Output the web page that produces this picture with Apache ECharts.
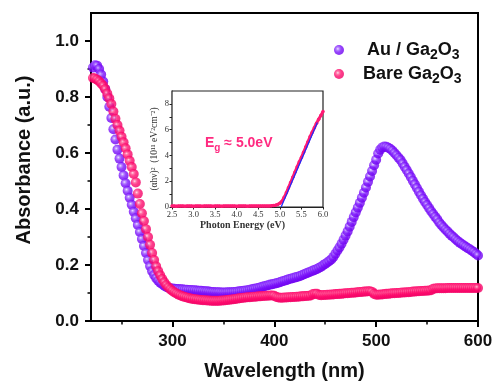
<!DOCTYPE html>
<html><head><meta charset="utf-8">
<script src="https://cdn.jsdelivr.net/npm/echarts@6/dist/echarts.min.js"></script>
<style>html,body{margin:0;padding:0;background:#fff}#c{width:497px;height:386px}</style>
</head><body><div id="c"></div>
<script>
const wavelengths = [
222,224,226,228,230,232,234,236,238,240,
242,244,246,248,250,252,254,256,258,260,
262,264,266,268,270,272,274,276,278,280,
282,284,286,288,290,292,294,296,298,300,
302,304,306,308,310,312,314,316,318,320,
322,324,326,328,330,332,334,336,338,340,
342,344,346,348,350,352,354,356,358,360,
362,364,366,368,370,372,374,376,378,380,
382,384,386,388,390,392,394,396,398,400,
402,404,406,408,410,412,414,416,418,420,
422,424,426,428,430,432,434,436,438,440,
442,444,446,448,450,452,454,456,458,460,
462,464,466,468,470,472,474,476,478,480,
482,484,486,488,490,492,494,496,498,500,
502,504,506,508,510,512,514,516,518,520,
522,524,526,528,530,532,534,536,538,540,
542,544,546,548,550,552,554,556,558,560,
562,564,566,568,570,572,574,576,578,580,
582,584,586,588,590,592,594,596,598,600];
const auGa2O3 = [
.905,.913,.912,.900,.880,.855,.828,.800,.765,.725,
.685,.648,.612,.580,.550,.520,.492,.465,.440,.415,
.390,.367,.343,.318,.293,.268,.243,.218,.196,.178,
.164,.153,.144,.137,.131,.126,.122,.119,.117,.116,
.115,.114,.114,.113,.113,.112,.112,.111,.111,.110,
.110,.109,.108,.108,.107,.106,.106,.105,.104,.104,
.103,.103,.103,.102,.102,.102,.103,.103,.103,.104,
.104,.105,.106,.107,.108,.109,.110,.112,.113,.115,
.116,.118,.120,.122,.124,.126,.128,.130,.131,.133,
.135,.137,.139,.142,.144,.146,.149,.151,.153,.155,
.157,.159,.162,.165,.168,.171,.174,.177,.180,.183,
.186,.190,.194,.199,.204,.209,.214,.220,.229,.240,
.252,.263,.276,.290,.305,.320,.337,.354,.371,.388,
.405,.422,.440,.458,.477,.497,.516,.536,.556,.576,
.598,.612,.620,.623,.622,.619,.614,.608,.600,.592,
.583,.575,.563,.551,.539,.527,.514,.501,.488,.475,
.462,.449,.437,.425,.414,.403,.392,.382,.372,.363,
.352,.343,.335,.327,.320,.312,.305,.299,.292,.286,
.280,.275,.270,.265,.260,.256,.251,.246,.240,.234];
const bareGa2O3 = [
.868,.866,.862,.856,.848,.840,.828,.812,.795,.775,
.748,.722,.700,.680,.658,.638,.617,.595,.572,.550,
.525,.495,.455,.418,.385,.357,.328,.300,.272,.243,
.218,.195,.178,.163,.150,.138,.128,.120,.113,.107,
.102,.098,.094,.091,.088,.086,.084,.082,.080,.079,
.078,.077,.076,.075,.074,.074,.073,.073,.072,.072,
.072,.072,.072,.073,.073,.074,.075,.076,.077,.078,
.079,.080,.081,.082,.083,.084,.085,.085,.086,.087,
.087,.088,.088,.089,.089,.090,.090,.091,.091,.090,
.086,.084,.083,.083,.084,.084,.085,.085,.086,.086,
.087,.087,.088,.088,.089,.089,.090,.091,.096,.097,
.097,.093,.092,.093,.093,.094,.094,.095,.095,.096,
.096,.097,.097,.098,.099,.099,.100,.101,.101,.102,
.103,.104,.104,.105,.105,.106,.106,.104,.097,.094,
.094,.095,.095,.096,.097,.097,.098,.099,.099,.100,
.100,.101,.102,.102,.103,.103,.104,.105,.105,.106,
.106,.107,.107,.108,.108,.109,.110,.115,.116,.117,
.117,.117,.117,.117,.118,.118,.118,.118,.118,.118,
.118,.118,.118,.118,.118,.118,.118,.118,.118,.118];
const xMajorTicks = [300,400,500,600];
const xMinorTicks = [250,350,450,550];
const yMajorTicks = [0,0.2,0.4,0.6,0.8,1.0];
const yMinorTicks = [0.1,0.3,0.5,0.7,0.9];

const photonEnergy = [
2.5,2.55,2.6,2.65,2.7,2.75,2.8,2.85,2.9,2.95,
3.0,3.05,3.1,3.15,3.2,3.25,3.3,3.35,3.4,3.45,
3.5,3.55,3.6,3.65,3.7,3.75,3.8,3.85,3.9,3.95,
4.0,4.05,4.1,4.15,4.2,4.25,4.3,4.35,4.4,4.45,
4.5,4.55,4.6,4.65,4.7,4.75,4.8,4.85,4.9,4.95,
5.0,5.05,5.1,5.15,5.2,5.25,5.3,5.35,5.4,5.45,
5.5,5.55,5.6,5.65,5.7,5.75,5.8,5.85,5.9,5.95,6.0];
const taucValues = [
.07,.08,.06,.07,.08,.07,.06,.07,.08,.07,
.06,.07,.07,.08,.06,.07,.08,.07,.07,.06,
.07,.08,.07,.06,.07,.08,.07,.07,.08,.07,
.06,.07,.08,.07,.07,.06,.07,.08,.07,.07,
.08,.07,.07,.08,.08,.08,.09,.11,.14,.20,
.30,.45,.75,1.1,1.5,1.9,2.3,2.7,3.1,3.5,
3.85,4.25,4.65,5.05,5.45,5.8,6.15,6.5,6.8,7.1,7.4];
const fitLineX = [5.03, 5.87];
const fitLineY = [0, 6.55];
const insetXTicks = [2.5,3.0,3.5,4.0,4.5,5.0,5.5,6.0];
const insetYTicks = [0,1,2,3,4,5,6,7,8];
const insetYLabels = [0,2,4,6,8];

const SANS = 'Liberation Sans, Arial, sans-serif';
const SERIF = 'Liberation Serif, Times New Roman, serif';
const purple = {type:'radial',x:0.38,y:0.38,r:0.62,colorStops:[
  {offset:0,color:'#eadcff'},{offset:0.25,color:'#a466ff'},{offset:0.55,color:'#7c14fb'},{offset:1,color:'#6e00ee'}]};
const pink = {type:'radial',x:0.38,y:0.38,r:0.62,colorStops:[
  {offset:0,color:'#ffd6e6'},{offset:0.25,color:'#ff5694'},{offset:0.55,color:'#ff0c6e'},{offset:1,color:'#f00064'}]};

const chart = echarts.init(document.getElementById('c'), null, {renderer:'canvas'});
const legendRich = {
  ta:{fontSize:18,fontWeight:'bold',fontFamily:SANS,color:'#111',lineHeight:24,padding:[0,0,0,18]},
  tb:{fontSize:18,fontWeight:'bold',fontFamily:SANS,color:'#111',lineHeight:24,padding:[0,0,0,14]},
  t:{fontSize:18,fontWeight:'bold',fontFamily:SANS,color:'#111',lineHeight:24},
  s:{fontSize:14,fontWeight:'bold',fontFamily:SANS,color:'#111',lineHeight:14,verticalAlign:'bottom'}
};
chart.setOption({
  animation:false,
  backgroundColor:'#fff',
  grid:[
    {left:91,right:19,top:13,bottom:64,show:true,borderColor:'#000',borderWidth:2,backgroundColor:'transparent'},
    {left:172,right:174,top:91,bottom:179,show:true,borderColor:'#222',borderWidth:1.2,backgroundColor:'#fff',z:5}
  ],
  legend:{
    orient:'vertical',left:329,top:36,itemWidth:10,itemHeight:10,itemGap:3,icon:'circle',
    data:['Au / Ga2O3','Bare Ga2O3'],
    formatter:function(n){
      return n==='Au / Ga2O3' ? '{ta|Au / Ga}{s|2}{t|O}{s|3}' : '{tb|Bare Ga}{s|2}{t|O}{s|3}';
    },
    textStyle:{rich:legendRich}
  },
  xAxis:[
    {gridIndex:0,type:'value',min:220,max:600,position:'bottom',
     axisLine:{show:true,lineStyle:{color:'#000',width:2}},
     axisTick:{show:true,inside:false,length:6,customValues:xMajorTicks,lineStyle:{color:'#000',width:2}},
     axisLabel:{customValues:xMajorTicks,fontSize:17,fontWeight:'bold',fontFamily:SANS,color:'#111',margin:12},
     splitLine:{show:false},
     name:'Wavelength (nm)',nameLocation:'middle',nameGap:40,
     nameTextStyle:{fontSize:20,fontWeight:'bold',fontFamily:SANS,color:'#111'}},
    {gridIndex:0,type:'value',min:220,max:600,position:'bottom',
     axisLine:{show:false},
     axisTick:{show:true,length:3.5,customValues:xMinorTicks,lineStyle:{color:'#000',width:1.5}},
     axisLabel:{show:false},splitLine:{show:false}},
    {gridIndex:1,type:'value',min:2.5,max:6,position:'bottom',
     axisLine:{show:true,lineStyle:{color:'#222',width:1.2}},
     axisTick:{show:true,length:2.5,customValues:insetXTicks,lineStyle:{color:'#222',width:1}},
     axisLabel:{customValues:insetXTicks,fontSize:8.5,fontFamily:SERIF,color:'#333',margin:3,
       formatter:function(v){return Number(v).toFixed(1);}},
     splitLine:{show:false},
     name:'Photon Energy (eV)',nameLocation:'middle',nameGap:13,
     nameTextStyle:{fontSize:10,fontWeight:'bold',fontFamily:SERIF,color:'#333',padding:[0,10,0,0]}}
  ],
  yAxis:[
    {gridIndex:0,type:'value',min:0,max:1.1,position:'left',
     axisLine:{show:true,lineStyle:{color:'#000',width:2}},
     axisTick:{show:true,length:6,customValues:yMajorTicks,lineStyle:{color:'#000',width:2}},
     axisLabel:{customValues:yMajorTicks,fontSize:17,fontWeight:'bold',fontFamily:SANS,color:'#111',margin:12,
       formatter:function(v){return Number(v).toFixed(1);}},
     splitLine:{show:false},
     name:'Absorbance (a.u.)',nameLocation:'middle',nameGap:57,
     nameTextStyle:{fontSize:20,fontWeight:'bold',fontFamily:SANS,color:'#111',padding:[0,0,0,14]}},
    {gridIndex:0,type:'value',min:0,max:1.1,position:'left',
     axisLine:{show:false},
     axisTick:{show:true,length:3.5,customValues:yMinorTicks,lineStyle:{color:'#000',width:1.5}},
     axisLabel:{show:false},splitLine:{show:false}},
    {gridIndex:1,type:'value',min:0,max:9,position:'left',
     axisLine:{show:true,lineStyle:{color:'#222',width:1.2}},
     axisTick:{show:true,length:2.5,customValues:insetYTicks,lineStyle:{color:'#222',width:1}},
     axisLabel:{customValues:insetYLabels,fontSize:8.5,fontFamily:SERIF,color:'#333',margin:3},
     splitLine:{show:false},
     name:'(αhν)²  (10¹¹ eV²cm⁻²)',nameLocation:'middle',nameGap:13,
     nameTextStyle:{fontSize:9.5,fontFamily:SERIF,color:'#333'}}
  ],
  graphic:[
    {type:'text',left:205,top:136,z:20,
     style:{text:'{a|E}{b|g}{a| ≈ 5.0eV}',
       rich:{a:{fontSize:14,fontWeight:'bold',fontFamily:SANS,fill:'#ff2a80',lineHeight:20},
             b:{fontSize:10,fontWeight:'bold',fontFamily:SANS,fill:'#ff2a80',lineHeight:10,verticalAlign:'bottom'}}}}
  ],
  series:[
    {name:'Au / Ga2O3',type:'scatter',xAxisIndex:0,yAxisIndex:0,symbol:'circle',symbolSize:10,
     itemStyle:{color:purple},
     data:wavelengths.map(function(w,i){return [w,auGa2O3[i]];})},
    {name:'Bare Ga2O3',type:'scatter',xAxisIndex:0,yAxisIndex:0,symbol:'circle',symbolSize:10,
     itemStyle:{color:pink},
     data:wavelengths.map(function(w,i){return [w,bareGa2O3[i]];})},
    {name:'tauc',type:'line',xAxisIndex:2,yAxisIndex:2,symbol:'circle',symbolSize:3.5,showSymbol:true,z:6,
     itemStyle:{color:'#ff1a74'},lineStyle:{color:'#ff1a74',width:3},
     data:photonEnergy.map(function(e,i){return [e,taucValues[i]];})},
    {name:'fit',type:'line',xAxisIndex:2,yAxisIndex:2,symbol:'none',z:7,
     lineStyle:{color:'#1a2cff',width:1.2},
     data:fitLineX.map(function(e,i){return [e,fitLineY[i]];})}
  ]
});
</script>
</body></html>
